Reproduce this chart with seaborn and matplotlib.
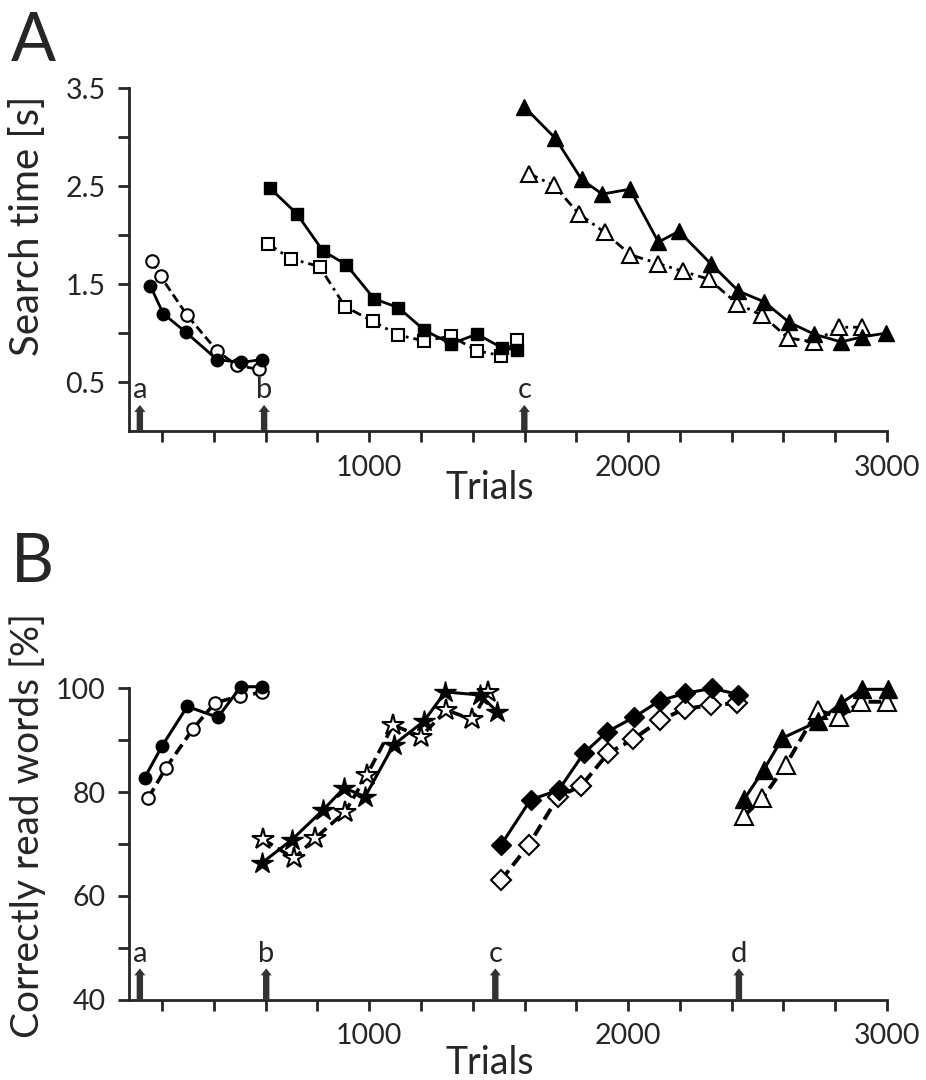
import numpy as np
import matplotlib
matplotlib.use('Agg')
import matplotlib.pyplot as plt
import seaborn as sns

# ---- panel A: search time [s] ----
circ_fill_x = [155, 204, 291, 412, 504, 585]
circ_fill_y = [1.48, 1.20, 1.01, 0.73, 0.70, 0.73]
circ_open_x = [159, 194, 297, 412, 488, 573]
circ_open_y = [1.74, 1.58, 1.18, 0.82, 0.67, 0.63]

sq_fill_x = [617, 720, 821, 911, 1019, 1113, 1213, 1316, 1416, 1513, 1571]
sq_fill_y = [2.48, 2.22, 1.84, 1.70, 1.35, 1.26, 1.03, 0.89, 0.99, 0.85, 0.83]
sq_open_x = [610, 697, 808, 907, 1014, 1113, 1213, 1316, 1416, 1509, 1571]
sq_open_y = [1.91, 1.76, 1.68, 1.27, 1.12, 0.98, 0.92, 0.97, 0.82, 0.77, 0.93]

tri_fill_x = [1599, 1719, 1820, 1900, 2007, 2117, 2196, 2319, 2426, 2525, 2622, 2718, 2822, 2902, 2996]
tri_fill_y = [3.31, 2.99, 2.57, 2.42, 2.47, 1.93, 2.04, 1.71, 1.43, 1.32, 1.11, 0.99, 0.91, 0.96, 1.00]
tri_open_x = [1616, 1713, 1809, 1909, 2009, 2117, 2213, 2312, 2422, 2519, 2618, 2718, 2815, 2902]
tri_open_y = [2.63, 2.51, 2.22, 2.03, 1.80, 1.71, 1.63, 1.55, 1.30, 1.18, 0.95, 0.91, 1.06, 1.06]

sessions_A = ['a', 'b', 'c']
session_start_A = [114, 594, 1599]

# ---- panel B: correctly read words [%] ----
bc_fill_x = [133, 200, 297, 415, 504, 586]
bc_fill_y = [82.8, 88.9, 96.5, 94.4, 100.3, 100.3]
bc_open_x = [146, 214, 318, 404, 501, 586]
bc_open_y = [78.8, 84.6, 92.1, 97.2, 98.5, 99.2]

st_fill_x = [587, 701, 821, 903, 984, 1094, 1210, 1294, 1429, 1494]
st_fill_y = [66.4, 70.8, 76.5, 80.8, 79.1, 89.1, 93.6, 99.3, 98.7, 95.5]
st_open_x = [589, 710, 791, 907, 991, 1092, 1200, 1298, 1397, 1457]
st_open_y = [70.9, 67.2, 71.1, 76.2, 83.3, 92.9, 90.7, 95.8, 94.0, 99.2]

dm_fill_x = [1509, 1623, 1732, 1829, 1919, 2022, 2122, 2218, 2325, 2426]
dm_fill_y = [69.8, 78.5, 80.4, 87.5, 91.6, 94.4, 97.6, 99.0, 100.0, 98.8]
dm_open_x = [1509, 1616, 1730, 1819, 1923, 2020, 2125, 2218, 2322, 2419]
dm_open_y = [63.0, 69.8, 79.1, 81.2, 87.5, 90.2, 93.9, 96.0, 96.8, 97.1]

bt_fill_x = [2448, 2523, 2596, 2734, 2822, 2902, 3005]
bt_fill_y = [78.6, 84.2, 90.4, 93.6, 97.1, 99.8, 99.8]
bt_open_x = [2448, 2519, 2609, 2732, 2815, 2899, 3000]
bt_open_y = [75.4, 78.8, 85.2, 95.8, 94.4, 97.4, 97.4]

sessions_B = ['a', 'b', 'c', 'd']
session_start_B = [114, 602, 1487, 2428]

sns.set_style('ticks')
plt.rcParams['font.family'] = ['Lato', 'DejaVu Sans']

DASH = (0, (3.2, 1.6))
DASHDOT = (0, (3.5, 1.8, 1, 1.8))


def series(ax, x, y, marker, ms, filled, ls, lw):
    sns.lineplot(x=x, y=y, ax=ax, sort=False, estimator=None, color='black',
                 linestyle=ls, linewidth=lw, marker=marker, markersize=ms,
                 markerfacecolor='black' if filled else 'white',
                 markeredgecolor='black', markeredgewidth=1.5 if not filled else 1.0,
                 clip_on=False, zorder=4 if filled else 3)


def arrows(ax, xs, labels, tip):
    for x, lab in zip(xs, labels):
        ax.annotate('', xy=(x, tip), xytext=(x, 0), xycoords=('data', 'axes fraction'),
                    textcoords=('data', 'axes fraction'),
                    arrowprops=dict(facecolor='#333333', edgecolor='none', width=4.6,
                                    headwidth=8, headlength=5, shrink=0))
        ax.text(x, tip + 0.006, lab, transform=ax.get_xaxis_transform(),
                ha='center', va='bottom', fontsize=21)


def style_axes(ax):
    sns.despine(ax=ax)
    for s in ['left', 'bottom']:
        ax.spines[s].set_linewidth(2.0)
    ax.tick_params(axis='both', direction='out', length=8, width=2.0,
                   labelsize=20.5, pad=9)
    xticks = np.arange(200, 3001, 200)
    ax.set_xticks(xticks)
    ax.set_xticklabels([str(t) if t % 1000 == 0 else '' for t in xticks])
    ax.set_xlim(72, 3000)


fig = plt.figure(figsize=(9.26, 10.8), dpi=100)
axA = fig.add_axes([0.1393, 0.6009, 0.8186, 0.3173])
axB = fig.add_axes([0.1393, 0.0745, 0.8186, 0.2882])

# panel A
series(axA, circ_fill_x, circ_fill_y, 'o', 9, True, '-', 2.0)
series(axA, circ_open_x, circ_open_y, 'o', 9, False, DASH, 2.0)
series(axA, sq_fill_x, sq_fill_y, 's', 9, True, '-', 2.0)
series(axA, sq_open_x, sq_open_y, 's', 9, False, DASHDOT, 2.0)
series(axA, tri_fill_x, tri_fill_y, '^', 12, True, '-', 2.0)
series(axA, tri_open_x, tri_open_y, '^', 12, False, DASHDOT, 2.0)

style_axes(axA)
axA.set_ylim(0, 3.5)
yA = np.arange(0.5, 3.51, 0.5)
axA.set_yticks(yA)
axA.set_yticklabels([f'{v:.1f}' if i % 2 == 0 else '' for i, v in enumerate(yA)])
axA.set_xlabel('Trials', fontsize=27)
axA.xaxis.set_label_coords(0.476, -0.115)
axA.set_ylabel('Search time [s]', fontsize=29)
axA.yaxis.set_label_coords(-0.11, 0.60)
arrows(axA, session_start_A, sessions_A, 0.076)

# panel B
series(axB, bc_fill_x, bc_fill_y, 'o', 9, True, '-', 2.2)
series(axB, bc_open_x, bc_open_y, 'o', 9, False, DASH, 2.6)
series(axB, st_fill_x, st_fill_y, '*', 16, True, '-', 2.2)
series(axB, st_open_x, st_open_y, '*', 16, False, DASH, 2.6)
series(axB, dm_fill_x, dm_fill_y, 'D', 10, True, '-', 2.2)
series(axB, dm_open_x, dm_open_y, 'D', 10, False, DASH, 2.8)
series(axB, bt_fill_x, bt_fill_y, '^', 13.5, True, '-', 2.2)
series(axB, bt_open_x, bt_open_y, '^', 13.5, False, DASH, 2.8)

style_axes(axB)
axB.set_ylim(40, 100)
yB = np.arange(40, 101, 10)
axB.set_yticks(yB)
axB.set_yticklabels([str(v) if i % 2 == 0 else '' for i, v in enumerate(yB)])
axB.set_xlabel('Trials', fontsize=27)
axB.xaxis.set_label_coords(0.476, -0.145)
axB.set_ylabel('Correctly read words [%]', fontsize=28)
axB.yaxis.set_label_coords(-0.11, 0.56)
arrows(axB, session_start_B, sessions_B, 0.10)

fig.text(0.012, 0.99, 'A', fontsize=48, ha='left', va='top')
fig.text(0.012, 0.507, 'B', fontsize=48, ha='left', va='top')

fig.savefig('out.png', dpi=100)
